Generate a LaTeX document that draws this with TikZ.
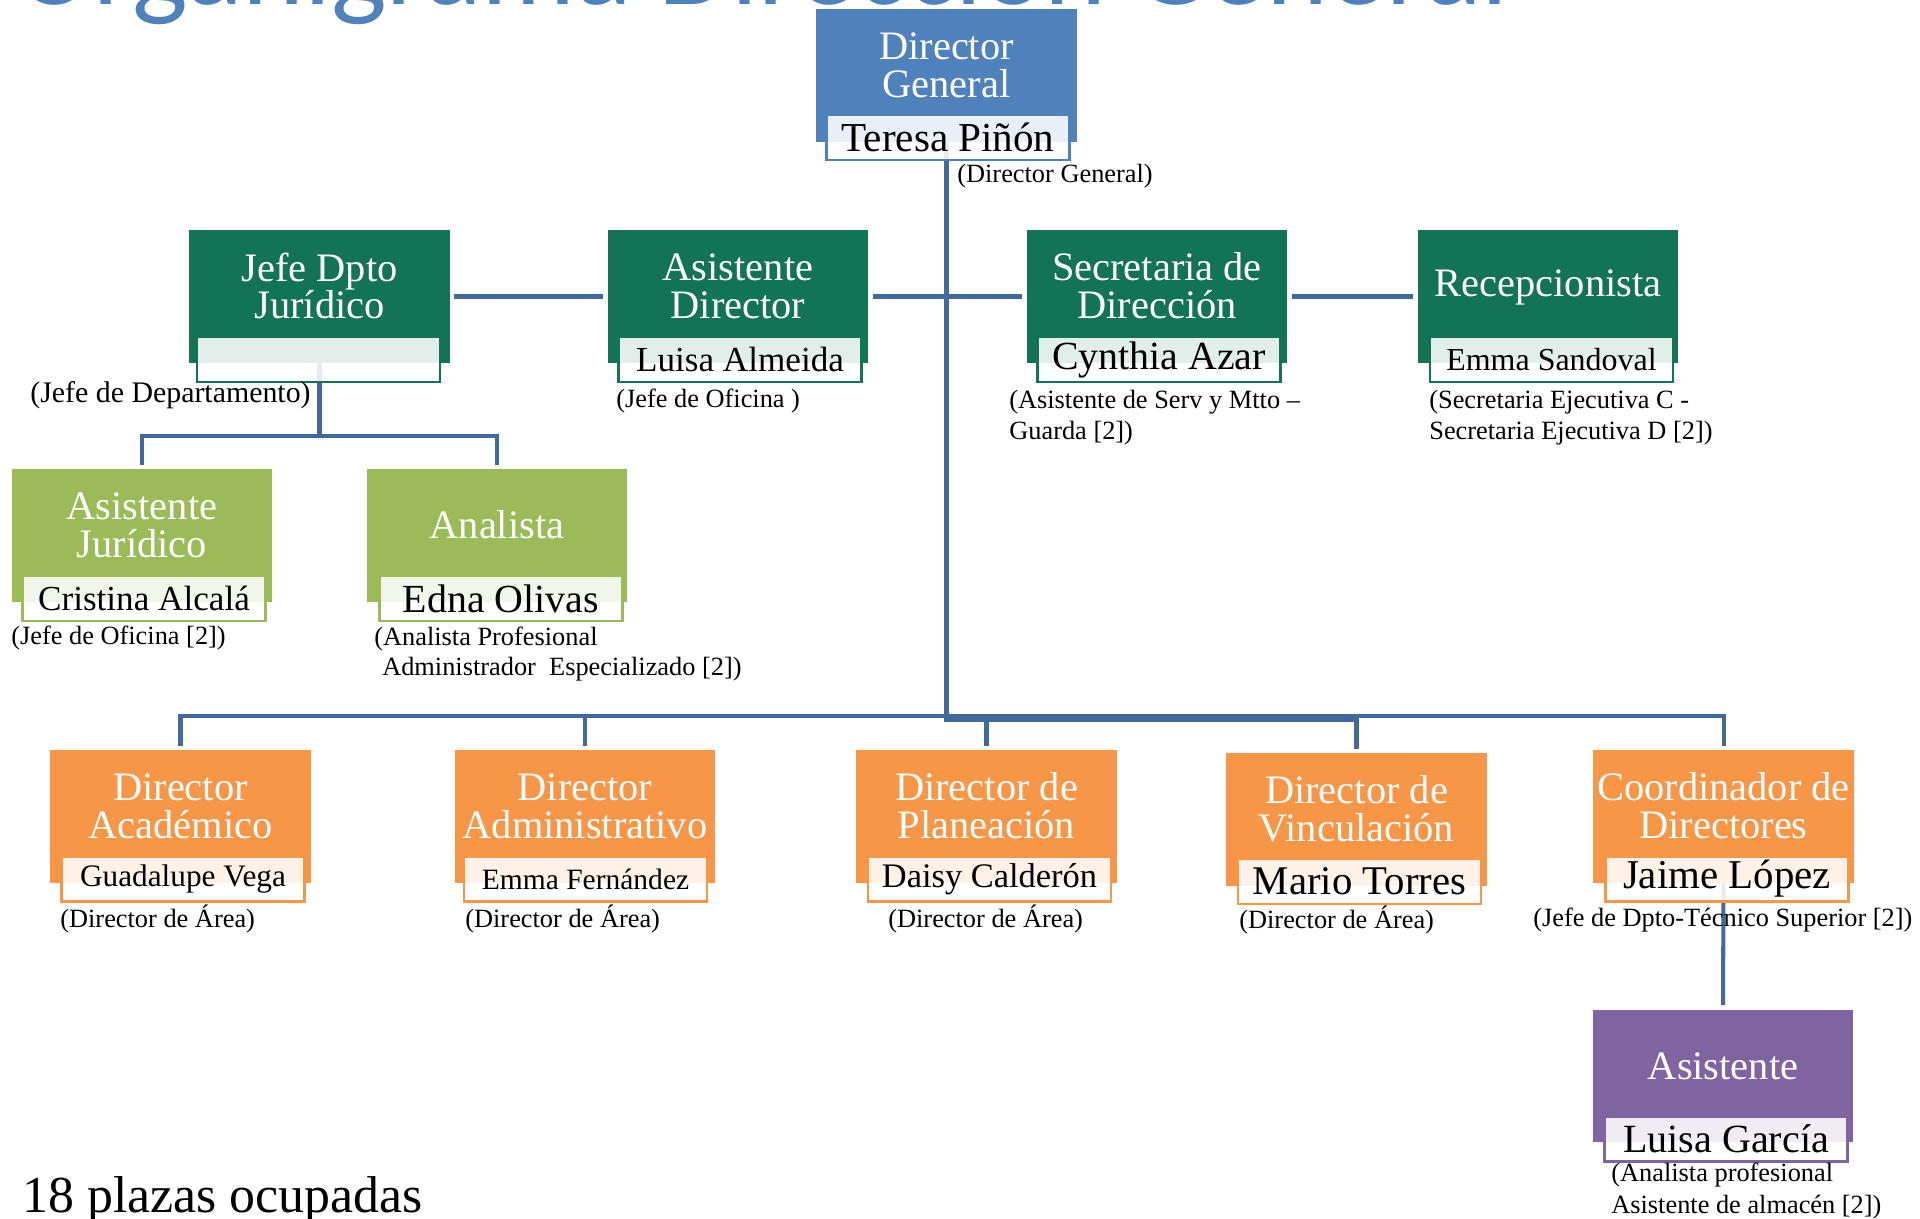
\documentclass[tikz,border=0pt]{standalone}
\usepackage{fontspec}
\setmainfont{Liberation Serif}
\newfontfamily\headfont{Carlito}
\usetikzlibrary{backgrounds}

\definecolor{dgblue}{HTML}{4F81BD}
\definecolor{dkgreen}{HTML}{127454}
\definecolor{ltgreen}{HTML}{9BBB59}
\definecolor{orng}{HTML}{F79646}
\definecolor{purp}{HTML}{8064A2}
\definecolor{lnblue}{HTML}{41699D}

\newcommand\ttlfont{\fontsize{23}{21.5}\selectfont}
\newcommand\notefont{\fontsize{15}{17.5}\selectfont}

\tikzset{
  orgbox/.style={rectangle, inner sep=0pt, minimum width=5.22cm, minimum height=2.66cm},
  orgtitle/.style={text=white, align=center, inner sep=0pt, font=\ttlfont},
  orgname/.style={rectangle, draw=#1, line width=1.4pt, fill=white, fill opacity=0.88,
    text opacity=1, inner sep=0pt, minimum width=4.86cm, minimum height=0.9cm},
  orgnote/.style={anchor=west, align=left, inner sep=0pt, font=\notefont},
  orglink/.style={draw=lnblue, line width=2.3pt},
  gap/.style={shorten <=0.08cm, shorten >=0.08cm}
}

\begin{document}
\begin{tikzpicture}[x=0.02cm, y=-0.02cm]
    \useasboundingbox (0,0) rectangle (1920,1219);
    \clip (0,0) rectangle (1920,1219);

    % Title, cut by the top edge
    \node[anchor=base west, inner sep=0pt, text=dgblue, font=\headfont\fontsize{67}{67}\selectfont] (title) at (15,5) {Organigrama Dirección General};

    % Director General
    \node[orgbox, fill=dgblue] (dg) at (946.5,75.5) {};
    \node[orgtitle] (dgt) at (946.5,65) {Director\\General};
    \node[orgname=dgblue, font=\fontsize{23.4}{24}\selectfont] (dgn) at (948,137.5) {Teresa Piñón};
    \node[orgnote] (dgl) at (957,176) {(Director General)};

    % Second row
    \node[orgbox, fill=dkgreen] (jd) at (319.5,296.5) {};
    \node[orgtitle] (jdt) at (319.5,286) {Jefe Dpto\\Jurídico};
    \node[orgname=dkgreen] (jdn) at (318.5,359.5) {};
    \node[orgnote, font=\fontsize{17}{20}\selectfont] (jdl) at (30,395) {(Jefe de Departamento)};

    \node[orgbox, fill=dkgreen] (ad) at (738,296.5) {};
    \node[orgtitle] (adt) at (738,286) {Asistente\\Director};
    \node[orgname=dkgreen, font=\fontsize{20}{21}\selectfont] (adn) at (740,359.5) {Luisa Almeida};
    \node[orgnote] (adl) at (616,401) {(Jefe de Oficina )};

    \node[orgbox, fill=dkgreen] (sec) at (1157,296.5) {};
    \node[orgtitle] (sect) at (1157,286) {Secretaria de\\Dirección};
    \node[orgname=dkgreen, font=\fontsize{22.7}{23}\selectfont] (secn) at (1159,359.5) {Cynthia Azar};
    \node[orgnote] (secl) at (1009,418) {(Asistente de Serv y Mtto –\\Guarda [2])};

    \node[orgbox, fill=dkgreen] (rec) at (1548,296.5) {};
    \node[orgtitle] (rect) at (1548,287) {Recepcionista};
    \node[orgname=dkgreen, font=\fontsize{18.2}{19}\selectfont] (recn) at (1551.5,359.5) {Emma Sandoval};
    \node[orgnote] (recl) at (1429,418) {(Secretaria Ejecutiva C -\\Secretaria Ejecutiva D [2])};

    % Under Jefe Dpto
    \node[orgbox, fill=ltgreen] (aj) at (142,535.5) {};
    \node[orgtitle] (ajt) at (142,525) {Asistente\\Jurídico};
    \node[orgname=ltgreen, font=\fontsize{20}{21}\selectfont] (ajn) at (144,598.5) {Cristina Alcalá};
    \node[orgnote] (ajl) at (11,638) {(Jefe de Oficina [2])};

    \node[orgbox, fill=ltgreen] (an) at (497,535.5) {};
    \node[orgtitle] (ant) at (497,525) {Analista};
    \node[orgname=ltgreen, font=\fontsize{22.7}{23}\selectfont] (ann) at (501,598.5) {Edna Olivas};
    \node[orgnote] (anl) at (374,654) {(Analista Profesional\\\hspace{4.5pt}Administrador~ Especializado [2])};

    % Directors row
    \node[orgbox, fill=orng] (dac) at (180.5,816.5) {};
    \node[orgtitle] (dact) at (180.5,806) {Director\\Académico};
    \node[orgname=orng, font=\fontsize{17.8}{18}\selectfont] (dacn) at (183,879) {Guadalupe Vega};
    \node[orgnote] (dacl) at (60,919) {(Director de Área)};

    \node[orgbox, fill=orng] (dad) at (585,816.5) {};
    \node[orgtitle] (dadt) at (585,806) {Director\\Administrativo};
    \node[orgname=orng, font=\fontsize{16.8}{17}\selectfont] (dadn) at (585.5,879) {Emma Fernández};
    \node[orgnote] (dadl) at (465,919) {(Director de Área)};

    \node[orgbox, fill=orng] (dpl) at (986.5,816.5) {};
    \node[orgtitle] (dplt) at (986.5,806) {Director de\\Planeación};
    \node[orgname=orng, font=\fontsize{19.6}{20}\selectfont] (dpln) at (989.5,879) {Daisy Calderón};
    \node[orgnote] (dpll) at (888,919) {(Director de Área)};

    \node[orgbox, fill=orng] (dvi) at (1356.5,819.5) {};
    \node[orgtitle] (dvit) at (1356.5,809) {Director de\\Vinculación};
    \node[orgname=orng, font=\fontsize{23.2}{24}\selectfont] (dvin) at (1359.5,881.5) {Mario Torres};
    \node[orgnote] (dvil) at (1239,920) {(Director de Área)};

    \node[orgbox, fill=orng] (coo) at (1723.5,816.5) {};
    \node[orgtitle] (coot) at (1723.5,806) {Coordinador de\\Directores};
    \node[orgname=orng, font=\fontsize{23.3}{24}\selectfont] (coon) at (1727,879) {Jaime López};
    \node[orgnote] (cool) at (1533,920) {(Jefe de Dpto-Técnico Superior [2])};

    % Under Coordinador
    \node[orgbox, fill=purp] (asi) at (1723,1076) {};
    \node[orgtitle] (asit) at (1723,1066) {Asistente};
    \node[orgname=purp, font=\fontsize{22.8}{23}\selectfont] (asin) at (1726,1139) {Luisa García};
    \node[orgnote, font=\fontsize{15}{18}\selectfont] (asil) at (1611,1191) {(Analista profesional\\Asistente de almacén [2])};

    \node[anchor=base west, inner sep=0pt, font=\fontsize{29.5}{30}\selectfont] (plazas) at (22,1212) {18 plazas ocupadas};

    % Connectors behind the boxes
    \coordinate (jbus) at (319.5,436);
    \coordinate (bus) at (946.5,716);
    \coordinate (bus2) at (946.5,720);
    \begin{scope}[on background layer]
        \draw[orglink, shorten >=0.08cm] (dg.south) -- (bus2) -| (dvi.north);
        \draw[orglink, gap] (jd.east) -- (ad.west);
        \draw[orglink, gap] (ad.east) -- (sec.west);
        \draw[orglink, gap] (sec.east) -- (rec.west);
        \draw[orglink] (jd.south) -- (jbus);
        \draw[orglink, shorten >=0.08cm] (jbus) -| (aj.north);
        \draw[orglink, shorten >=0.08cm] (jbus) -| (an.north);
        \foreach \d in {dac, dad, dpl, coo} {
            \draw[orglink, shorten >=0.08cm] (bus) -| (\d.north);
        }
        \draw[orglink, shorten >=0.08cm] (coo.south) -- (asi.north);
    \end{scope}
\end{tikzpicture}
\end{document}
